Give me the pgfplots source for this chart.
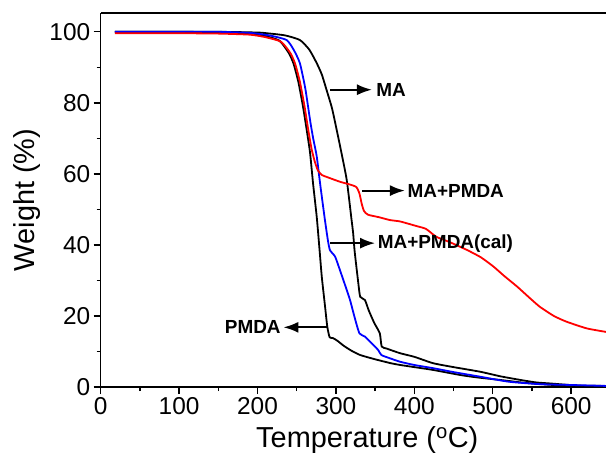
\documentclass[border=0pt]{standalone}
\usepackage{fontspec}
\setmainfont{Liberation Sans}
\usepackage{pgfplots}
\pgfplotsset{compat=1.18}
\usetikzlibrary{arrows.meta}

% TGA curves, weight (%) against temperature (C)
\pgfplotstableread{
T W
18 100
100 100
150 99.9
190 99.5
210 98.8
228 97.5
240 94
246 91
252 86
258 79
263 72
267 66
271 57
275.5 48
279 39
282 31
286 23
289 17
292 14
296 13.8
302 13
310 11.6
320 10.2
331 9
350 7.8
370 6.7
382 6.2
400 5.6
424 4.8
458 3.4
480 2.7
509 2
540 1.2
575 0.6
610 0.3
645 0.2
}\pmda

\pgfplotstableread{
T W
18 99.6
100 99.6
150 99.5
190 99.2
210 98.5
230 97.2
242 94
248 91
254 86
260 79
265 72
269 67
273 63.5
277 61
282 59.7
290 59
305 57.8
318 57
326 56.3
330 54.5
333 51.5
336 49.5
341 48.5
355 47.8
369 47
382 46.6
403 45.3
415 44.5
428 42.3
445 40.8
467 38.6
485 36.5
501 33.9
515 31.2
531 28.3
546 25.3
560 22.6
578 20
594 18.4
620 16.5
645 15.5
}\mix

\pgfplotstableread{
T W
18 100
100 100
150 100
190 99.7
215 99
237 97.7
246 95
254 91.2
261 84
267 75.2
271 70
275.5 65
280 57
286 47
290 41
292.5 38.5
299 36.7
305 33
312 28.5
318 24.5
324 19.5
330 15.1
337 14.2
346 12.2
354 10.4
358 9
370 8.0
382 7.1
400 6.2
424 5.3
450 4.2
484 2.9
520 1.5
560 0.8
594 0.6
645 0.3
}\cal

\pgfplotstableread{
T W
18 100
150 100
200 99.8
212 99.6
235 99
254 97.7
266 95
275.5 91.2
282 88
288 83.7
295 78.5
301 72.4
307 66
313.8 58.3
320 47
322 43.3
324 38
328.6 29.2
331 25.4
337 24.5
342 21.5
349 18
356 15.1
358.4 11.4
365 10.8
382 9.5
400 8.5
424 6.7
450 5.6
484 4.3
510 3.0
535 2
555 1.3
573 1
610 0.4
645 0.3
}\ma

\begin{document}
\begin{tikzpicture}
\begin{axis}[
    name=ax,
    at={(0,0)}, anchor=south west,
    scale only axis,
    width=505.3bp, height=374bp,
    xmin=0, xmax=644.5,
    ymin=0, ymax=105.3,
    axis x line*=box,
    axis y line*=left,
    xtick pos=bottom, ytick pos=left,
    xtick={0,100,...,600},
    ytick={0,20,...,100},
    minor x tick num=1,
    minor y tick num=1,
    tick align=outside,
    major tick length=7bp,
    minor tick length=4bp,
    axis line style={line width=1.5bp},
    every tick/.style={black, line width=1.3bp},
    /pgf/number format/assume math mode=true,
    ticklabel style={font=\fontsize{24.5}{28}\selectfont},
    label style={font=\fontsize{29}{34}\selectfont},
    xlabel={Temperature (\textsuperscript{o}C)},
    ylabel={Weight (\%)},
    xlabel style={at={(axis cs:340,0)}, anchor=north, yshift=-36bp},
    ylabel style={yshift=2bp},
    every axis plot/.append style={line width=1.8bp, no marks, smooth, tension=0.35},
]
\addplot[black] table[x=T, y=W] {\pmda};
\addplot[black] table[x=T, y=W] {\ma};
\addplot[blue] table[x=T, y=W] {\cal};
\addplot[red] table[x=T, y=W] {\mix};

\begin{scope}[font=\fontsize{19}{22}\selectfont\bfseries]
\draw[line width=2bp, -{Latex[length=15bp,width=11bp]}] (axis cs:292.5,83.7) -- (axis cs:346,83.7);
\node[anchor=west, inner sep=1bp] at (axis cs:350,83.7) {MA};
\draw[line width=2bp, -{Latex[length=15bp,width=11bp]}] (axis cs:333,55.3) -- (axis cs:388,55.3);
\node[anchor=west, inner sep=1bp] at (axis cs:390,55.3) {MA+PMDA};
\draw[line width=2bp, -{Latex[length=15bp,width=11bp]}] (axis cs:292.5,40.5) -- (axis cs:350,40.5);
\node[anchor=west, inner sep=1bp] at (axis cs:352,40.5) {MA+PMDA(cal)};
\draw[line width=2bp, -{Latex[length=15bp,width=11bp]}] (axis cs:288.3,16.8) -- (axis cs:233,16.8);
\node[anchor=east, inner sep=1bp] at (axis cs:231,16.8) {PMDA};
\end{scope}
\end{axis}
\pgfresetboundingbox
\useasboundingbox (-100.7bp,-74bp) rectangle (505.3bp,387bp);
\end{tikzpicture}
\end{document}
